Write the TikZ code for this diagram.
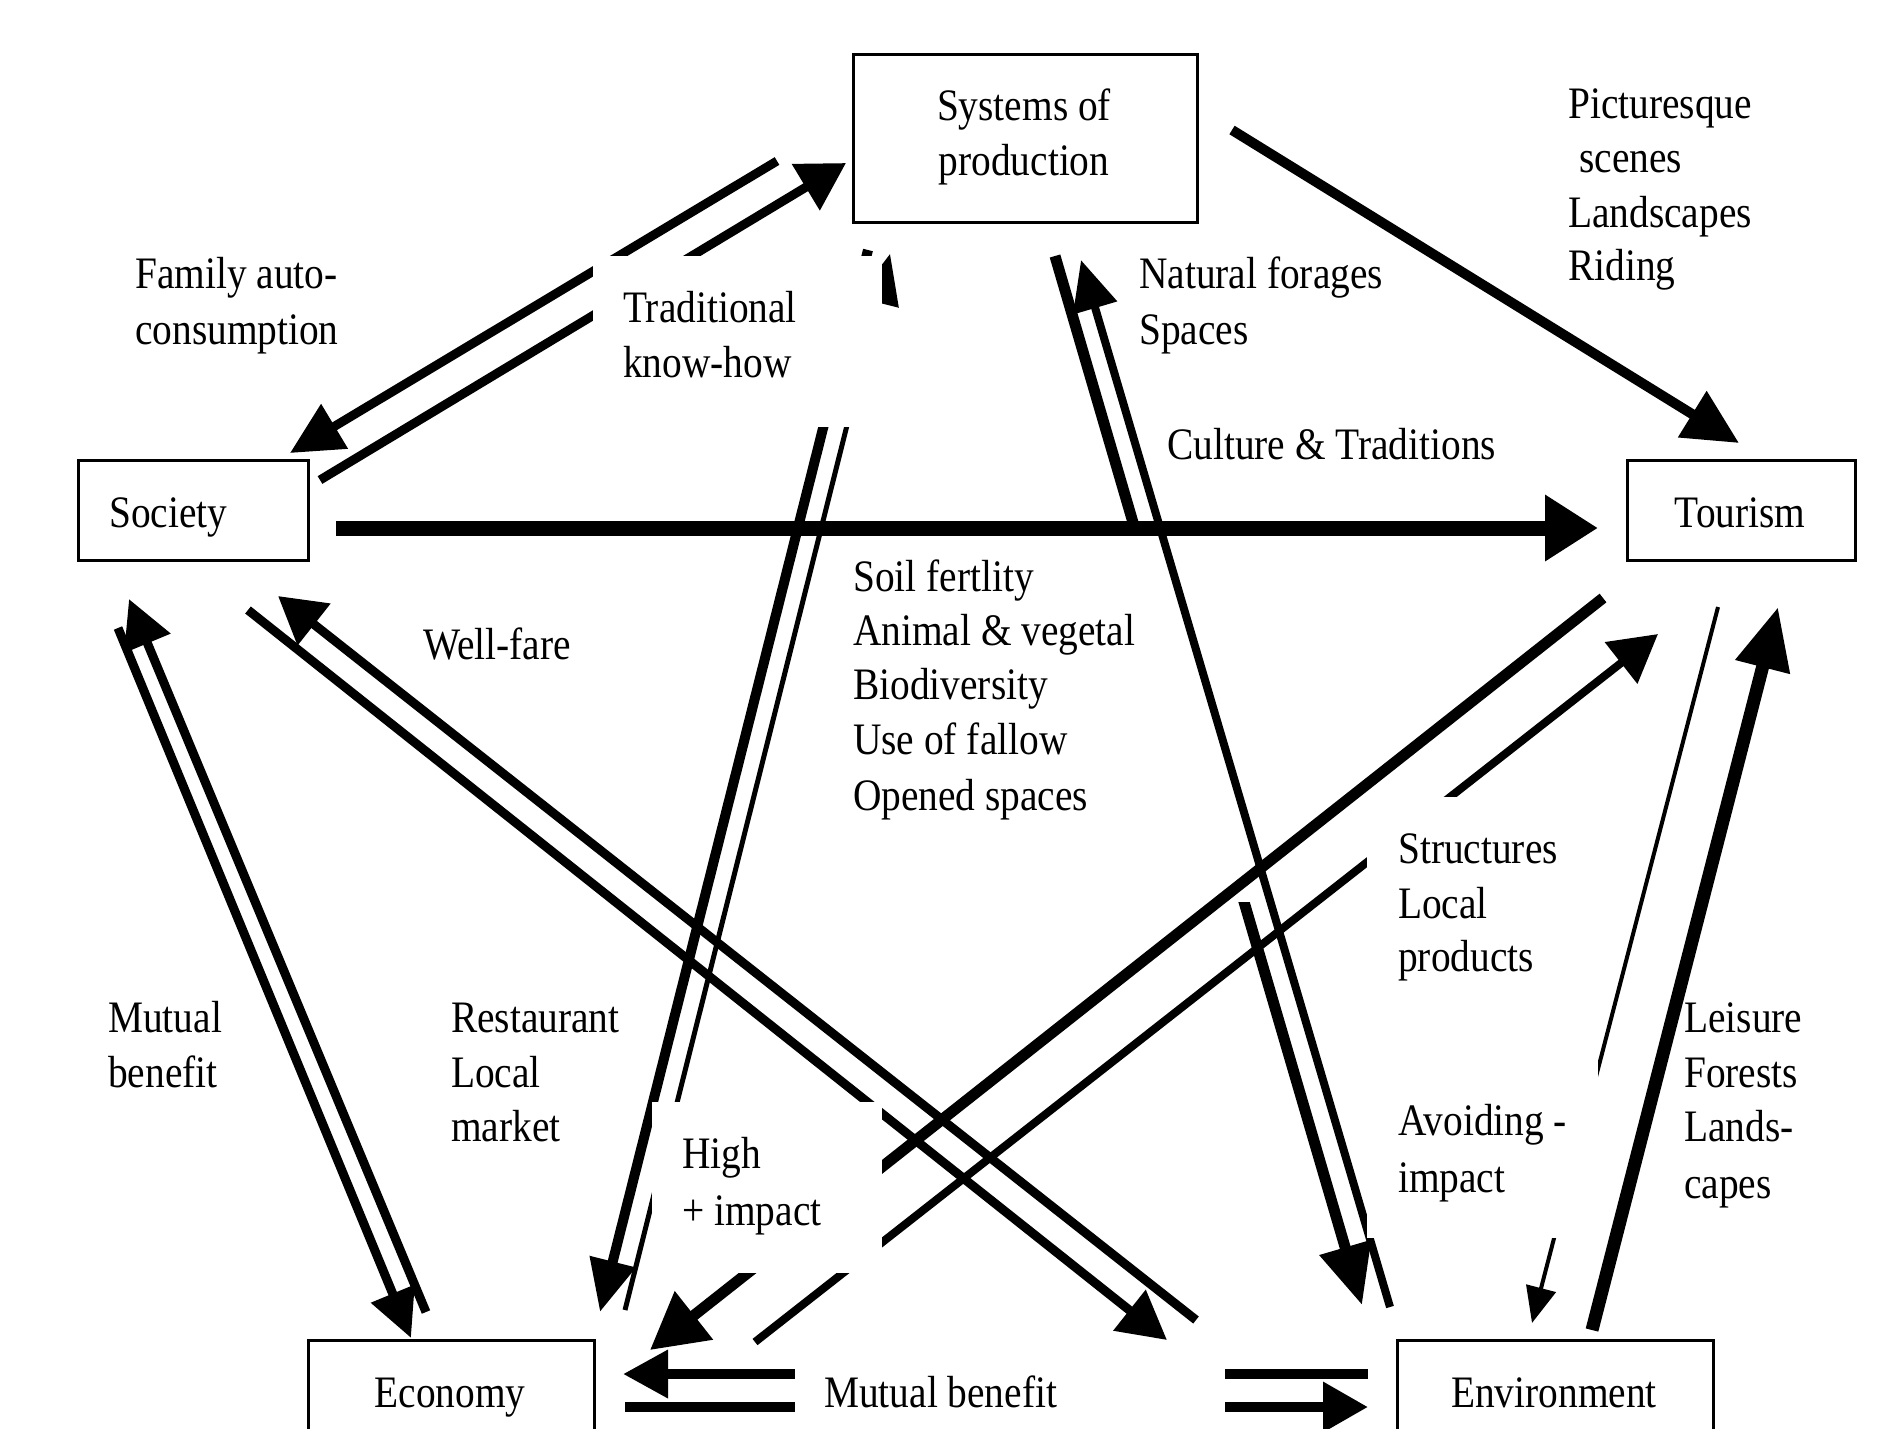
\documentclass[tikz,border=0pt]{standalone}
\usepackage{fontspec}
\setmainfont{Liberation Serif}[FakeStretch=0.875]
\usetikzlibrary{arrows.meta}
\tikzset{
  box/.style={draw, line width=2.5pt, rectangle, inner sep=0pt},
  txt/.style={anchor=base west, inner sep=0pt, font=\fontsize{45}{55}\selectfont},
  ctxt/.style={anchor=base, inner sep=0pt, font=\fontsize{45}{55}\selectfont},
  patch/.style={fill=white},
  lw/.style={line width=#1pt},
  hd/.style 2 args={-{Triangle[length=#1pt,width=#2pt]}},
}
\begin{document}
\begin{tikzpicture}[x=1pt,y=-1pt]
\useasboundingbox (0,0) rectangle (1894,1428);
\clip (0,0) rectangle (1894,1428);

% ---- boxes
\node[box, anchor=north west, minimum width=344pt, minimum height=168pt] (sys) at (852,53) {};
\node[box, anchor=north west, minimum width=230pt, minimum height=100pt] (soc) at (77,459) {};
\node[box, anchor=north west, minimum width=228pt, minimum height=100pt] (tour) at (1626,459) {};
\node[box, anchor=north west, minimum width=286pt, minimum height=160pt] (eco) at (307,1339) {};
\node[box, anchor=north west, minimum width=316pt, minimum height=160pt] (env) at (1396,1339) {};

% ---- connector end points
\coordinate (st1) at (1232,130);  \coordinate (st2) at (1739,443);
\coordinate (so1) at (336,528);   \coordinate (so2) at (1598,528);
\coordinate (ys1) at (777,161);   \coordinate (ys2) at (290,453);
\coordinate (sy1) at (320,480);   \coordinate (sy2) at (846,163);
\coordinate (ye1) at (868,250);   \coordinate (ye2) at (600,1312);
\coordinate (ey1) at (625,1310);  \coordinate (ey2) at (890,254);
\coordinate (yv1) at (1055,256);  \coordinate (yv2) at (1362,1305);
\coordinate (vy1) at (1390,1307); \coordinate (vy2) at (1081,260);
\coordinate (sc1) at (118,628);   \coordinate (sc2) at (411,1338);
\coordinate (cs1) at (426,1312);  \coordinate (cs2) at (129,599);
\coordinate (vs1) at (1196,1320); \coordinate (vs2) at (278,596);
\coordinate (sv1) at (248,610);   \coordinate (sv2) at (1167,1340);
\coordinate (tc1) at (1603,598);  \coordinate (tc2) at (650,1350);
\coordinate (ct1) at (755,1342);  \coordinate (ct2) at (1658,634);
\coordinate (tv1) at (1718,607);  \coordinate (tv2) at (1532,1323);
\coordinate (vt1) at (1592,1330); \coordinate (vt2) at (1778,607);
\coordinate (vc1) at (1368,1374); \coordinate (vc2) at (623,1374);
\coordinate (cv1) at (625,1407);  \coordinate (cv2) at (1368,1407);

% ---- connector under the Soil text box
\draw[lw=11, hd={60}{51}] (yv1) -- (yv2);
\fill[patch] (845,536) rectangle (1262,902);

% ---- other connectors
\draw[lw=10, hd={55}{52}] (st1) -- (st2);
\draw[lw=15, hd={53}{63}] (so1) -- (so2);
\draw[lw=9, hd={52}{50}] (ys1) -- (ys2);
\draw[lw=9, hd={47}{52}] (sy1) -- (sy2);
\draw[lw=10, hd={52}{45}] (ye1) -- (ye2);
\draw[lw=5, hd={50}{42}] (ey1) -- (ey2);
\draw[lw=8, hd={50}{44}] (vy1) -- (vy2);
\draw[lw=9, hd={48}{45}] (sc1) -- (sc2);
\draw[lw=9, hd={48}{48}] (cs1) -- (cs2);
\draw[lw=9, hd={46}{51}] (vs1) -- (vs2);
\draw[lw=9, hd={48}{50}] (sv1) -- (sv2);
\draw[lw=11, hd={56}{59}] (tc1) -- (tc2);
\draw[lw=8, hd={47}{51}] (ct1) -- (ct2);
\draw[lw=4, hd={36}{30}] (tv1) -- (tv2);
\draw[lw=13, hd={62}{53}] (vt1) -- (vt2);
\draw[lw=10, hd={45}{46}] (vc1) -- (vc2);
\draw[lw=10, hd={45}{48}] (cv1) -- (cv2);

% ---- white text boxes that cut the connectors
\fill[patch] (593,256) rectangle (882,427);
\fill[patch] (652,1102) rectangle (882,1273);
\fill[patch] (1367,797) rectangle (1598,1238);
\fill[patch] (795,1352) rectangle (1225,1428);

% ---- texts
\node[ctxt] (sysA) at (1024,120) {Systems of};
\node[ctxt] (sysB) at (1024,175) {production};
\node[txt] (socT) at (109,527) {Society};
\node[ctxt] (tourT) at (1740,527) {Tourism};
\node[ctxt] (ecoT) at (450,1407) {Economy};
\node[ctxt] (envT) at (1554,1407) {Environment};

\node[txt] (picA) at (1568,118) {Picturesque};
\node[txt] (picB) at (1579,172) {scenes};
\node[txt] (picC) at (1568,227) {Landscapes};
\node[txt] (picD) at (1568,280) {Riding};

\node[txt] (famA) at (135,288) {Family auto-};
\node[txt] (famB) at (135,344) {consumption};

\node[txt] (traA) at (623,322) {Traditional};
\node[txt] (traB) at (623,377) {know-how};

\node[txt] (natA) at (1139,288) {Natural forages};
\node[txt] (natB) at (1139,344) {Spaces};

\node[txt] (cul) at (1167,459) {Culture \& Traditions};

\node[txt] (soiA) at (853,591) {Soil fertlity};
\node[txt] (soiB) at (853,645) {Animal \& vegetal};
\node[txt] (soiC) at (853,699) {Biodiversity};
\node[txt] (soiD) at (853,754) {Use of fallow};
\node[txt] (soiE) at (853,810) {Opened spaces};

\node[txt] (wel) at (423,659) {Well-fare};

\node[txt] (strA) at (1398,863) {Structures};
\node[txt] (strB) at (1398,918) {Local};
\node[txt] (strC) at (1398,971) {products};

\node[txt] (mutA) at (108,1032) {Mutual};
\node[txt] (mutB) at (108,1087) {benefit};

\node[txt] (resA) at (451,1032) {Restaurant};
\node[txt] (resB) at (451,1087) {Local};
\node[txt] (resC) at (451,1141) {market};

\node[txt] (higA) at (682,1168) {High};
\node[txt] (higB) at (682,1225) {+ impact};

\node[txt] (avoA) at (1398,1135) {Avoiding -};
\node[txt] (avoB) at (1398,1192) {impact};

\node[txt] (leiA) at (1684,1032) {Leisure};
\node[txt] (leiB) at (1684,1087) {Forests};
\node[txt] (leiC) at (1684,1141) {Lands-};
\node[txt] (leiD) at (1684,1198) {capes};

\node[txt] (mbT) at (824,1407) {Mutual benefit};
\end{tikzpicture}
\end{document}
